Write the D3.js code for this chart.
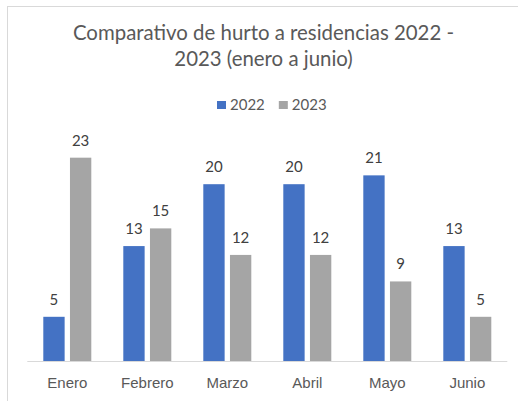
<!DOCTYPE html>
<html>
<head>
<meta charset="utf-8">
<script src="https://cdn.jsdelivr.net/npm/d3@7"></script>
<style>
  body { margin: 0; background: #fff; }
  svg { display: block; font-family: Lato, "Open Sans", sans-serif; }
  .lbl { fill: #404040; font-size: 15px; }
  .cat { fill: #595959; font-size: 15px; }
  .legend text { fill: #595959; font-size: 15px; }
  .title { fill: #595959; font-size: 20.4px; }
</style>
</head>
<body>
<svg id="chart" width="518" height="401"></svg>
<script>
// chart data
var months = ["Enero", "Febrero", "Marzo", "Abril", "Mayo", "Junio"];
var years = ["2022", "2023"];
var values2022 = [5, 13, 20, 20, 21, 13];
var values2023 = [23, 15, 12, 12, 9, 5];
var colors = ["#4472C4", "#A5A5A5"];
var titleLines = ["Comparativo de hurto a residencias 2022 -", "2023 (enero a junio)"];

var svg = d3.select("#chart");

// outer chart border (runs off the right and bottom edges)
svg.append("rect")
  .attr("x", 7.5).attr("y", 6.5)
  .attr("width", 540).attr("height", 420)
  .attr("fill", "#fff")
  .attr("stroke", "#D9D9D9");

var xScale = d3.scaleBand().domain(months).range([27.3, 507.3]);
var yScale = d3.scaleLinear().domain([0, 25]).range([361, 140]);
var xInner = d3.scaleBand().domain(years)
  .range([xScale.bandwidth() * 0.2, xScale.bandwidth() * 0.8])
  .paddingInner(0.2);

var color = d3.scaleOrdinal().domain(years).range(colors);

var rows = months.map(function(m, i) {
  return { month: m, vals: [
    { year: "2022", v: values2022[i] },
    { year: "2023", v: values2023[i] }
  ]};
});

// title
svg.append("text")
  .attr("class", "title")
  .attr("text-anchor", "middle")
  .selectAll("tspan")
  .data(titleLines)
  .join("tspan")
    .attr("x", 263.5)
    .attr("y", function(d, i) { return 40 + i * 26; })
    .text(function(d) { return d; });

// legend
var legend = svg.append("g").attr("class", "legend");
var lx = 217;
years.forEach(function(y) {
  legend.append("rect")
    .attr("x", lx).attr("y", 101)
    .attr("width", 9).attr("height", 8)
    .attr("fill", color(y));
  var t = legend.append("text")
    .attr("x", lx + 13).attr("y", 110)
    .text(y);
  lx += 13 + t.node().getComputedTextLength() + 14;
});

// bars
var groups = svg.append("g").selectAll("g")
  .data(rows)
  .join("g")
    .attr("transform", function(d) { return "translate(" + xScale(d.month) + ",0)"; });

groups.selectAll("rect")
  .data(function(d) { return d.vals; })
  .join("rect")
    .attr("x", function(d) { return xInner(d.year); })
    .attr("y", function(d) { return yScale(d.v); })
    .attr("width", xInner.bandwidth())
    .attr("height", function(d) { return yScale(0) - yScale(d.v); })
    .attr("fill", function(d) { return color(d.year); });

groups.selectAll("text")
  .data(function(d) { return d.vals; })
  .join("text")
    .attr("class", "lbl")
    .attr("text-anchor", "middle")
    .attr("x", function(d) { return xInner(d.year) + xInner.bandwidth() / 2; })
    .attr("y", function(d) { return yScale(d.v) - 12; })
    .text(function(d) { return d.v; });

// x axis
var xAxis = d3.axisBottom(xScale).tickSize(0).tickPadding(16);
var ax = svg.append("g")
  .attr("transform", "translate(0," + yScale(0) + ")")
  .call(xAxis);
ax.select(".domain").attr("stroke", "#D9D9D9").attr("d", "M27.3,0.5H507.3");
ax.selectAll("text").attr("class", "cat").attr("font-family", null).attr("font-size", null);
</script>
</body>
</html>
